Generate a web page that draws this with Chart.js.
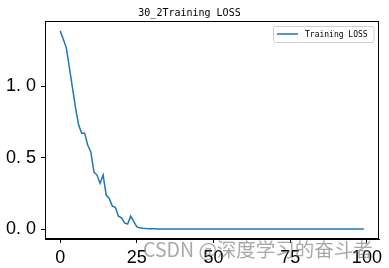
<!DOCTYPE html>
<html>
<head>
<meta charset="utf-8">
<script src="https://cdn.jsdelivr.net/npm/chart.js@4/dist/chart.umd.min.js"></script>
<style>
html,body{margin:0;padding:0;background:#fff;}
#wrap{width:389px;height:268px;position:relative;}
</style>
</head>
<body>
<div id="wrap"><canvas id="c" width="389" height="268"></canvas></div>
<script>
const titleText = "30_2Training LOSS";
const seriesLabel = "Training LOSS";
const epochs = Array.from({length: 100}, (_, i) => i);
const lossValues = [
  1.387, 1.330, 1.268, 1.130, 0.990, 0.850, 0.730, 0.670, 0.670, 0.587,
  0.540, 0.400, 0.378, 0.320, 0.378, 0.238, 0.215, 0.161, 0.152, 0.090,
  0.079, 0.044, 0.035, 0.091, 0.052, 0.016, 0.009, 0.006, 0.004, 0.003,
  0.0025, 0.002, 0.0018, 0.0016, 0.0015, 0.0014, 0.0013, 0.0012, 0.0011, 0.0010,
  0.0010, 0.0009, 0.0009, 0.0008, 0.0008, 0.0008, 0.0007, 0.0007, 0.0007, 0.0007,
  0.0006, 0.0006, 0.0006, 0.0006, 0.0006, 0.0005, 0.0005, 0.0005, 0.0005, 0.0005,
  0.0005, 0.0005, 0.0004, 0.0004, 0.0004, 0.0004, 0.0004, 0.0004, 0.0004, 0.0004,
  0.0004, 0.0004, 0.0003, 0.0003, 0.0003, 0.0003, 0.0003, 0.0003, 0.0003, 0.0003,
  0.0003, 0.0003, 0.0003, 0.0003, 0.0003, 0.0003, 0.0003, 0.0002, 0.0002, 0.0002,
  0.0002, 0.0002, 0.0002, 0.0002, 0.0002, 0.0002, 0.0002, 0.0002, 0.0002, 0.0002
];
const xTicks = [0, 25, 50, 75, 100];
const xTickLabels = ["0", "25", "50", "75", "100"];
const yTicks = [0, 0.5, 1.0];
const yTickLabels = ["0. 0", "0. 5", "1. 0"];
const watermark = "CSDN @深度学习的奋斗者";

const frame = {
  id: 'frame',
  afterDraw(chart) {
    const {ctx, chartArea: a} = chart;
    ctx.save();
    ctx.strokeStyle = '#000';
    ctx.lineWidth = 1;
    ctx.strokeRect(Math.round(a.left) + 0.5, Math.round(a.top) + 0.5, Math.round(a.right - a.left) - 1, Math.round(a.bottom - a.top) - 1);
    // legend
    const ds = chart.data.datasets[0];
    const bx = 273.5, by = 26.5, bw = 100.5, bh = 16;
    ctx.fillStyle = 'rgba(255,255,255,0.8)';
    ctx.strokeStyle = '#d0d0d0';
    ctx.beginPath();
    ctx.roundRect(bx, by, bw, bh, 2);
    ctx.fill();
    ctx.stroke();
    ctx.strokeStyle = ds.borderColor;
    ctx.lineWidth = 1.5;
    ctx.beginPath();
    ctx.moveTo(277, 34);
    ctx.lineTo(298, 34);
    ctx.stroke();
    ctx.fillStyle = '#000';
    ctx.font = "8px 'DejaVu Sans Mono'";
    ctx.textBaseline = 'middle';
    ctx.fillText(ds.label, 305, 34.5);
    // watermark
    let fs = 21;
    ctx.font = fs + "px 'Noto Sans CJK SC'";
    fs = fs * 230 / ctx.measureText(watermark).width;
    ctx.font = fs.toFixed(1) + "px 'Noto Sans CJK SC'";
    ctx.fillStyle = 'rgba(110,110,110,0.6)';
    ctx.textBaseline = 'middle';
    ctx.fillText(watermark, 143, 249.5);
    ctx.restore();
  }
};

new Chart(document.getElementById('c'), {
  type: 'line',
  data: {
    datasets: [{
      label: seriesLabel,
      data: epochs.map((e, i) => ({x: e, y: lossValues[i]})),
      borderColor: '#1f77b4',
      borderWidth: 1.5,
      pointRadius: 0,
      tension: 0,
      fill: false
    }]
  },
  options: {
    responsive: false,
    animation: false,
    devicePixelRatio: 1,
    layout: {padding: {left: 0, right: 10, top: 0, bottom: 0}},
    plugins: {
      legend: {display: false},
      tooltip: {enabled: false},
      title: {
        display: true,
        text: titleText,
        color: '#000',
        font: {family: "'DejaVu Sans Mono'", size: 10, weight: 'normal', lineHeight: 1.2},
        padding: {top: 7, bottom: 2}
      }
    },
    scales: {
      x: {
        type: 'linear',
        min: -4.95,
        max: 103.95,
        afterBuildTicks: s => { s.ticks = xTicks.map(v => ({value: v})); },
        afterFit: s => { s.height = 29; s.paddingLeft = 0; s.paddingRight = 0; },
        ticks: {
          callback: (v) => xTickLabels[xTicks.indexOf(v)],
          color: '#000',
          font: {family: "'Liberation Sans'", size: 18},
          padding: 4,
          maxRotation: 0,
          autoSkip: false
        },
        grid: {display: true, drawOnChartArea: false, drawTicks: true, tickLength: 4, color: '#000'},
        border: {display: true, color: '#000', width: 1}
      },
      y: {
        type: 'linear',
        min: -0.069,
        max: 1.456,
        afterBuildTicks: s => { s.ticks = yTicks.map(v => ({value: v})); },
        afterFit: s => { s.width = 45; s.paddingTop = 0; s.paddingBottom = 0; },
        ticks: {
          callback: (v) => yTickLabels[yTicks.indexOf(v)],
          color: '#000',
          font: {family: "'Liberation Sans'", size: 18},
          padding: 5,
          autoSkip: false
        },
        grid: {display: true, drawOnChartArea: false, drawTicks: true, tickLength: 4, color: '#000'},
        border: {display: true, color: '#000', width: 1}
      }
    }
  },
  plugins: [frame]
});
</script>
</body>
</html>
